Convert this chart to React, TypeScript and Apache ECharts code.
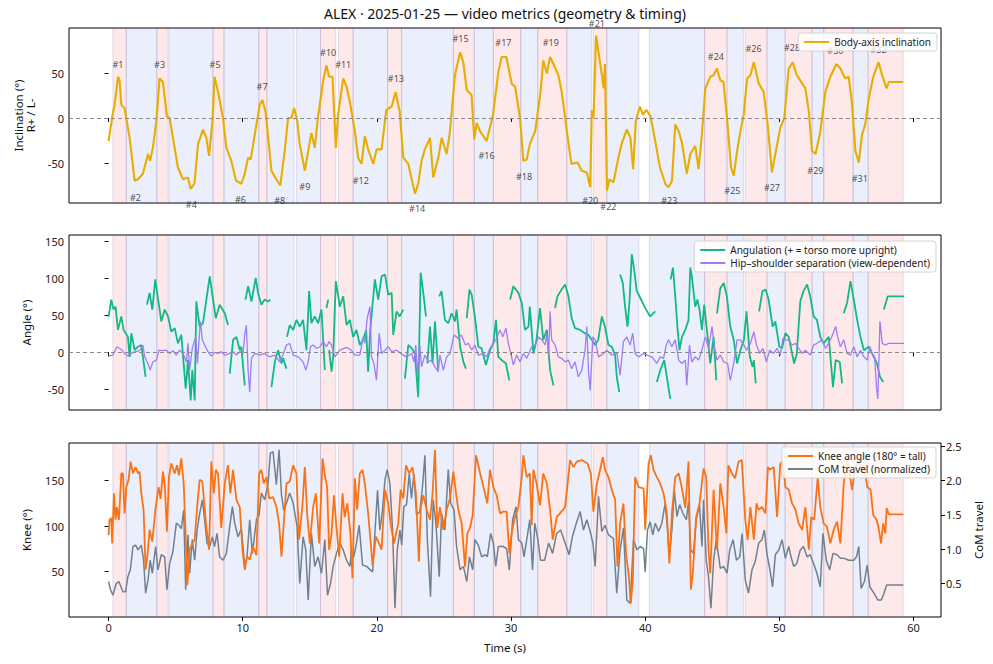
import React, { useEffect, useRef } from "react";
import * as echarts from "echarts";

const FONT = "'Noto Sans', 'DejaVu Sans', sans-serif";

// ---------- shaded phases ----------
const bandStart = [0.32, 1.32, 3.6, 4.5, 7.78, 8.6, 11.2, 11.8, 14.0, 15.8, 17.14, 18.23, 20.8, 21.84, 25.7, 27.26, 28.68, 30.72, 31.99, 34.16, 36.14, 37.14, 40.32, 44.43, 46.1, 47.46, 49.08, 50.43, 52.44, 53.31, 55.5, 56.62];
const bandEnd = [1.32, 3.6, 4.43, 7.78, 8.6, 11.2, 11.8, 13.83, 15.8, 16.94, 18.23, 20.8, 21.84, 25.7, 27.26, 28.68, 30.72, 31.99, 34.16, 36.02, 37.14, 39.53, 44.43, 46.1, 47.34, 49.08, 50.43, 52.44, 53.31, 55.5, 56.62, 59.23];
const bandKind = ["R", "L", "R", "L", "R", "L", "R", "L", "L", "R", "R", "L", "R", "L", "R", "L", "R", "L", "R", "L", "R", "L", "L", "R", "L", "R", "L", "R", "L", "R", "L", "R"];

// ---------- ticks ----------
const xTicks = [0, 10, 20, 30, 40, 50, 60];
const inclTicks = [-50, 0, 50];
const angleTicks = [-50, 0, 50, 100, 150];
const kneeTicks = [50, 100, 150];
const comTicks = [0.5, 1.0, 1.5, 2.0, 2.5];

// ---------- body-axis inclination ----------
const inclT = [0, 0.32, 0.45, 0.7, 0.82, 0.95, 1.19, 1.57, 1.94, 2.19, 2.56, 2.94, 3.1, 3.3, 3.56, 3.8, 4.05, 4.35, 4.55, 4.8, 5.17, 5.55, 5.92, 6.12, 6.4, 6.67, 7.04, 7.29, 7.49, 7.74, 7.9, 8.16, 8.53, 8.78, 9.15, 9.5, 9.9, 10.15, 10.4, 10.6, 10.9, 11.27, 11.47, 11.7, 11.9, 12.14, 12.5, 12.8, 13.13, 13.38, 13.63, 13.83, 14.05, 14.25, 14.63, 14.88, 15.12, 15.37, 15.6, 16.0, 16.24, 16.44, 16.69, 16.94, 17.11, 17.49, 17.74, 17.98, 18.36, 18.6, 18.86, 19.1, 19.35, 19.73, 19.98, 20.35, 20.7, 21.1, 21.4, 21.7, 21.97, 22.34, 22.84, 23.08, 23.33, 23.58, 23.96, 24.2, 24.58, 24.83, 25.2, 25.45, 25.82, 26.2, 26.44, 26.7, 27.06, 27.26, 27.44, 27.69, 28.18, 28.66, 29.05, 29.3, 29.65, 30.05, 30.3, 30.67, 30.92, 31.17, 31.4, 31.8, 32.2, 32.4, 32.67, 32.91, 33.16, 33.53, 33.78, 34.16, 34.5, 34.95, 35.27, 35.65, 35.9, 36.02, 36.15, 36.34, 36.52, 36.77, 36.9, 37.0, 37.15, 37.34, 37.64, 38.0, 38.27, 38.63, 38.9, 39.1, 39.3, 39.6, 39.83, 40.08, 40.4, 40.75, 41.1, 41.5, 41.74, 42.0, 42.24, 42.5, 42.74, 43.1, 43.36, 43.73, 43.98, 44.23, 44.48, 44.85, 45.1, 45.34, 45.6, 45.84, 46.14, 46.4, 46.6, 46.84, 47.1, 47.34, 47.6, 47.84, 48.1, 48.46, 48.83, 49.13, 49.45, 49.7, 50.07, 50.37, 50.7, 51.0, 51.3, 51.7, 51.94, 52.2, 52.44, 52.7, 53.06, 53.43, 53.8, 54.25, 54.55, 54.9, 55.17, 55.4, 55.67, 55.92, 56.17, 56.4, 56.67, 57.0, 57.4, 57.66, 57.99, 58.16, 59.23];
const inclV = [-25.6, 5.5, 14.6, 45.8, 42, 14.6, 11, -22, -69.6, -68, -62, -40, -47.6, -33, -3.7, 44, 40, 1.8, 0, -22, -55, -68, -66, -78.8, -73, -29, -12.8, -22, -42, -3.7, 45.8, 29, 0, -33, -47.6, -69.6, -73, -62, -44, -46, -18, 14.6, 20, 7, -22, -58.6, -68, -75, -36.6, 0, 0, 11, -1.8, -29, -58.6, -36.6, -16.5, -33, 0, 42, 58.6, 45.8, 45.8, -33, 3.7, 44, 34.8, 18.3, -14.6, -44, -51, -20, -34.8, -51, -34.8, -34.8, 9, 12.8, 29, 7, -44, -51, -84, -73, -47.6, -34.8, -22, -66, -44, -22, -40, -14.6, 47.6, 73, 62, 31, 25.6, -23.8, -5.5, -14.6, -25.6, 3.7, 51, 67.8, 67.8, 38, 35, 0, -47.6, -46, -29, -14.6, 29, 64, 49.5, 67.8, 60, 47.6, 29, -14.6, -51, -49.5, -58.6, -60.4, -77, 9, 0, 91.6, 73, 47.6, 33, 60, -80.6, -68, -71.4, -44, -27.5, -12.8, -22, -56.8, -3.7, 12.8, 3.7, 9, 1.8, -25.6, -55, -73, -77, -69.6, -7.3, -14.6, -27.5, -62, -40, -31, -56.8, -18, 33, 45.8, 47.6, 55, 42, 40, -7.3, -55, -64, -38, -14.6, 3.7, 44, 47.6, 62, 38.5, 29, -7.3, -60.4, -40, -11, 0, 55, 62, 47.6, 38.5, 33, 7, -36.6, -40, -14.6, 29, 45.8, 60, 55, 44, 45.8, 18.3, -36.6, -49.5, -18, -7.3, 22, 45.8, 62, 47.6, 33, 40, 40];

// ---------- turn annotations ----------
const peakName = ["#1", "#2", "#3", "#4", "#5", "#6", "#7", "#8", "#9", "#10", "#11", "#12", "#13", "#14", "#15", "#16", "#17", "#18", "#19", "#20", "#21", "#22", "#23", "#24", "#25", "#26", "#27", "#28", "#29", "#30", "#31", "#32"];
const peakT = [0.7, 2.0, 3.8, 6.17, 7.94, 9.83, 11.44, 12.76, 14.63, 16.37, 17.49, 18.8, 21.42, 23.0, 26.24, 28.18, 29.43, 30.97, 32.96, 35.9, 36.4, 37.26, 41.8, 45.27, 46.5, 48.08, 49.45, 50.95, 52.69, 54.18, 56.0, 57.4];
const peakV = [60, -88, 59, -96, 59, -90, 35, -92, -76, 73, 59, -69, 44, -100, 88, -42, 84, -65, 83.5, -91.6, 105, -98, -92, 68.5, -80.6, 77, -77.7, 78, -58.6, 75, -66.7, 76];

// ---------- angulation ----------
const angT = [0, 0.2, 0.37, 0.52, 0.7, 0.95, 1.12, 1.44, 1.57, 1.7, 1.94, 2.19, 2.44, 2.76, 2.8, 2.86, 3.06, 3.26, 3.48, 3.73, 3.93, 4.18, 4.43, 4.68, 4.93, 5.17, 5.42, 5.75, 5.92, 6.12, 6.24, 6.42, 6.54, 6.79, 7.04, 7.29, 7.54, 7.79, 7.99, 8.28, 8.66, 8.9, 8.95, 9.03, 9.28, 9.53, 9.78, 9.9, 10.15, 10.18, 10.2, 10.4, 10.65, 10.97, 11.14, 11.39, 11.64, 11.89, 12.06, 12.1, 12.14, 12.39, 12.64, 12.89, 13.0, 13.26, 13.28, 13.3, 13.5, 13.76, 14.0, 14.25, 14.5, 14.75, 14.95, 15.12, 15.37, 15.62, 15.87, 16.12, 16.18, 16.24, 16.37, 16.4, 16.44, 16.62, 16.74, 16.94, 17.24, 17.49, 17.74, 17.98, 18.23, 18.48, 18.73, 18.98, 19.2, 19.35, 19.5, 19.85, 20.1, 20.35, 20.6, 20.85, 21.1, 21.22, 21.47, 21.7, 21.97, 22.03, 22.09, 22.34, 22.6, 22.83, 23.08, 23.26, 23.46, 23.66, 23.7, 23.76, 23.96, 24.15, 24.33, 24.57, 24.61, 24.65, 24.82, 25.07, 25.32, 25.57, 25.82, 25.94, 26.2, 26.45, 26.64, 26.67, 26.7, 26.9, 27.07, 27.3, 27.56, 27.8, 28.13, 28.43, 28.68, 28.88, 29.05, 29.3, 29.62, 29.87, 29.9, 29.93, 30.17, 30.55, 30.8, 31.04, 31.3, 31.4, 31.67, 31.9, 32.16, 32.4, 32.67, 32.91, 33.16, 33.22, 33.28, 33.46, 33.7, 34.03, 34.28, 34.52, 34.77, 35.15, 35.5, 35.77, 36.02, 36.27, 36.5, 36.77, 37.0, 37.26, 37.5, 37.76, 37.88, 38.07, 38.1, 38.13, 38.33, 38.5, 38.68, 38.83, 39.0, 39.18, 39.37, 39.63, 40.0, 40.37, 40.75, 40.8, 40.87, 41.12, 41.42, 41.87, 41.88, 41.9, 42.07, 42.24, 42.42, 42.56, 42.74, 42.99, 43.23, 43.36, 43.48, 43.73, 43.9, 44.05, 44.23, 44.4, 44.6, 44.85, 45.1, 45.3, 45.32, 45.35, 45.6, 45.85, 46.09, 46.34, 46.6, 46.85, 47.1, 47.36, 47.55, 47.8, 48.0, 48.1, 48.24, 48.35, 48.49, 48.74, 48.98, 49.2, 49.5, 49.7, 50.0, 50.2, 50.45, 50.7, 51.1, 51.3, 51.56, 51.8, 52.07, 52.3, 52.56, 52.8, 53.05, 53.3, 53.68, 54.0, 54.2, 54.5, 54.68, 54.74, 54.8, 55.05, 55.3, 55.55, 55.8, 56.05, 56.3, 56.66, 57.04, 57.28, 57.5, 57.74, 57.76, 57.79, 58.08, 59.3];
const angV = [48, 71.5, 58, 62, 30.5, 48.7, 30.5, 21, -6, 26, 3, 7.7, 10, -33, null, 64.7, 80.6, 58, 98.8, 67, 42, 58, 48.7, 28, 32.8, 12.3, 23.7, -49, -10.5, -65, -24, -65, 69, 35, 39.6, 71.5, 103, 71.5, 46.4, 64.7, 53, 37, null, -28.7, 16.8, 21, 3, 7.7, -44.6, null, 71.5, 89.7, 69, 101, 80.6, 64.7, 71.5, 69, 71.5, null, -47, -12.8, 3, -15, -8, -22, null, 21, 37, 30.5, 44, 35, 44, 3, 83, 39.6, 48.7, 39.6, 58, -24, null, 60, 71.5, null, 3, -26, -6, 96.5, 62, 76, 37, 44, 21, 30.5, 10, 17, 30.5, -26, 30, 99, 71.5, 103, 105.6, 78, 80.6, 23.7, 55.6, 48.7, 58, null, -35.5, 10, 5.5, -1.4, -60.6, 108, 80.6, 48.7, null, -15, 35, -15, 42, -24, null, 76, 83, 44, 39.6, 53, 42, 58, 7.7, -12.8, -22, null, 46.4, 85, 78, 48.7, 7.7, 5.5, -17, 3, 12.3, 44, -6, -10.5, -15, -37.8, null, 71.5, 89.7, 80.6, 67, 30.5, 35, 62, -1.4, 17, 60, 17, 30.5, -24, -44.6, null, 60, 76, 83, 92, 76, 46.4, 32.8, 30.5, 26, 23.7, 17, 10, 17, 48.7, 35, 10, 7.7, -3.6, -33, -53.7, null, 105.6, 94, 62, 35, 69, 133, 112, 83, 74, 60, 48.7, 55.6, null, -40, -24, -10.5, -62.8, null, 99, 114.8, 76, 30.5, 3, 21, 30.5, 44, 114.8, 103, 62, 71.5, 58, 30.5, 64.7, 30.5, -15, 21, -37.8, null, 53, 87, 94, 76, 35, 17, -15, 3, 17, 55.6, -6, -19.6, -10.5, -42, null, 55.6, 83, 85, 71.5, 35, 42, 7.7, 5.5, 26, 21, -15, -1.4, 69, 83, 92, 76, 48.7, 44, 21, 12.3, 21, -47, -10.5, -12.8, -42, null, 53, 67, 96.5, 71.5, 44, 21, 3, 7.7, -6, -15, -33, -40, null, 58, 76, 76];

// ---------- hip-shoulder separation ----------
const hipT = [0, 0.32, 0.62, 0.95, 1.19, 1.44, 1.82, 2.31, 2.56, 2.69, 2.94, 3.1, 3.3, 3.56, 3.76, 4.05, 4.3, 4.55, 4.8, 5.05, 5.3, 5.55, 5.8, 5.92, 6.04, 6.24, 6.49, 6.62, 6.84, 6.99, 7.16, 7.41, 7.66, 7.9, 8.16, 8.4, 8.66, 8.9, 9.28, 9.53, 9.78, 10.02, 10.15, 10.27, 10.4, 10.52, 10.65, 10.9, 11.27, 11.64, 12.0, 12.39, 12.76, 13.0, 13.26, 13.5, 13.76, 14.13, 14.5, 14.7, 14.88, 15.05, 15.25, 15.5, 15.75, 16.0, 16.24, 16.44, 16.62, 16.87, 17.24, 17.74, 18.1, 18.36, 18.73, 18.98, 19.1, 19.28, 19.48, 19.6, 19.78, 19.97, 20.17, 20.35, 20.6, 20.85, 21.1, 21.47, 21.84, 22.21, 22.6, 22.76, 22.9, 23.03, 23.2, 23.33, 23.58, 23.83, 24.08, 24.33, 24.57, 24.7, 24.95, 25.2, 25.45, 25.75, 26.07, 26.3, 26.6, 26.82, 27.07, 27.3, 27.56, 27.93, 28.18, 28.43, 28.68, 28.93, 29.18, 29.38, 29.62, 29.8, 29.98, 30.17, 30.42, 30.67, 30.92, 31.17, 31.55, 31.8, 32.04, 32.3, 32.55, 32.67, 32.8, 32.91, 33.03, 33.28, 33.53, 33.78, 34.03, 34.28, 34.52, 34.77, 35.02, 35.27, 35.52, 35.65, 35.77, 35.9, 36.1, 36.27, 36.52, 36.9, 37.14, 37.5, 37.9, 38.13, 38.38, 38.63, 38.88, 39.07, 39.25, 39.5, 39.88, 40.12, 40.5, 40.87, 41.12, 41.37, 41.57, 41.74, 41.99, 42.24, 42.5, 42.74, 42.99, 43.1, 43.3, 43.48, 43.73, 43.98, 44.23, 44.48, 44.72, 44.98, 45.15, 45.35, 45.6, 45.85, 46.15, 46.34, 46.6, 46.85, 47.1, 47.36, 47.55, 47.84, 48.1, 48.3, 48.54, 48.78, 49.03, 49.28, 49.58, 49.83, 50.07, 50.27, 50.45, 50.7, 50.95, 51.2, 51.44, 51.7, 51.94, 52.3, 52.56, 52.8, 53.17, 53.43, 53.68, 53.9, 54.2, 54.35, 54.55, 54.8, 55.05, 55.3, 55.55, 55.8, 56.05, 56.3, 56.55, 56.75, 56.92, 57.1, 57.24, 57.34, 57.5, 57.67, 57.9, 58.15, 59.3];
const hipV = [-5, -3.6, 7.7, 4, -1.4, -5, 0, 2.3, 10, -6, -15, -24, -12.8, -10.5, 3, 2.3, 3, -1.4, 2.3, -3.6, 3, -1.4, -12.8, 12.3, -24, 5.5, 21, -15, 42, 17, 10, 1, -5, 0, -1.4, 1, -3.6, -2.3, 1, -3.6, 1, -1.4, 23.7, 37, -24, -53.7, -8, -1.4, -3.6, -1.4, -6, -3.6, -12.8, -3.6, 10, 12.3, -3.6, -6, -12.8, -24, -12.8, 7.7, 10, 5.5, 7.7, 14.6, 7.7, 14.6, 10, -6, 3, 6.8, 3, -3.6, -3.6, 21, 12.3, 46.4, 62, -6, -15, -37.8, 26, -1.4, 3, 7.7, 1, 3, -2.3, -6, -1.4, -12.8, 10, -28.7, 10, -19.6, -3.6, -12.8, -10.5, -19.6, -26, -3.6, -24, -6, -1.4, 23.7, 19, 23.7, 10, 12.3, 3, 10, -3.6, -1.4, -6, 5.5, 12.3, 19, 30.5, 21, 32.8, 12.3, -1.4, -17, -3.6, -12.8, -1.4, -8, 7.7, 10, 21, 17, 10, 26, -3.6, 55.6, 17, 10, -6, -8, -12.8, -10.5, -22, -12.8, -33, -24, 3, 35, -24, -51.5, 21, 17, -6, -1.4, 3, -3.6, -1.4, -31, 14.6, 21, 10, 26, -1.4, -6, -1.4, -3.6, -6, -15, -6, -8, 10, 17, 7.7, 17, -10.5, -15, -10.5, -44.6, 10, -12.8, -6, -10.5, 3, 21, 5.5, 35, 7.7, -10.5, -3.6, -12.8, -15, -37.8, -15, 17, 17, 10, 3, 12.3, 28, 10, -1.4, 5.5, -12.8, 3, -1.4, 5.5, -3.6, 19, 17, 17, 10, 12.3, 5.5, -1.4, 3, -3.6, 10, 12.3, 17, 5.5, 12.3, 21, 35, 21, 7.7, 17, -1.4, -3.6, 7.7, -6, 3, -6, -10.5, 7.7, -1.4, -6, -47, -63, 42, 12.3, 10, 12.3, 12.3];

// ---------- knee angle ----------
const kneeT = [0, 0.07, 0.2, 0.27, 0.4, 0.52, 0.62, 0.77, 0.95, 1.07, 1.19, 1.32, 1.49, 1.64, 1.82, 2.01, 2.19, 2.31, 2.44, 2.61, 2.76, 2.89, 3.06, 3.26, 3.51, 3.73, 3.88, 4.05, 4.2, 4.35, 4.5, 4.68, 4.93, 5.1, 5.25, 5.42, 5.6, 5.75, 5.87, 6.04, 6.24, 6.42, 6.6, 6.79, 6.99, 7.29, 7.49, 7.66, 7.84, 7.99, 8.16, 8.4, 8.66, 8.9, 9.08, 9.28, 9.53, 9.78, 9.98, 10.15, 10.32, 10.52, 10.77, 11.02, 11.22, 11.39, 11.57, 11.77, 11.97, 12.26, 12.51, 12.71, 12.89, 13.06, 13.26, 13.5, 13.76, 14.0, 14.2, 14.45, 14.63, 14.8, 15.0, 15.25, 15.45, 15.7, 15.95, 16.12, 16.29, 16.44, 16.62, 16.8, 16.99, 17.19, 17.44, 17.6, 17.79, 18.03, 18.18, 18.36, 18.53, 18.73, 18.93, 19.1, 19.35, 19.68, 19.93, 20.17, 20.35, 20.6, 20.85, 21.02, 21.27, 21.6, 21.77, 21.97, 22.17, 22.41, 22.66, 22.91, 23.13, 23.28, 23.46, 23.71, 23.96, 24.15, 24.33, 24.5, 24.7, 24.95, 25.2, 25.45, 25.7, 25.9, 26.07, 26.32, 26.57, 26.74, 26.94, 27.14, 27.39, 27.63, 27.88, 28.06, 28.23, 28.43, 28.68, 28.93, 29.18, 29.42, 29.67, 29.87, 30.04, 30.29, 30.55, 30.8, 30.92, 31.17, 31.4, 31.54, 31.67, 31.9, 32.16, 32.4, 32.67, 32.91, 33.11, 33.4, 33.65, 34.03, 34.4, 34.65, 34.9, 35.27, 35.7, 35.95, 36.14, 36.4, 36.64, 36.84, 37.01, 37.26, 37.51, 37.76, 37.93, 38.13, 38.38, 38.58, 38.76, 38.93, 39.08, 39.25, 39.5, 39.88, 40.0, 40.25, 40.42, 40.62, 40.87, 41.12, 41.37, 41.62, 41.8, 42.0, 42.24, 42.5, 42.74, 42.99, 43.23, 43.4, 43.55, 43.8, 44.05, 44.35, 44.55, 44.72, 44.85, 45.1, 45.35, 45.6, 45.85, 46.05, 46.2, 46.47, 46.7, 46.96, 47.2, 47.46, 47.64, 47.84, 48.1, 48.3, 48.46, 48.7, 48.96, 49.15, 49.3, 49.58, 49.83, 50.07, 50.27, 50.45, 50.7, 50.95, 51.2, 51.44, 51.7, 51.94, 52.2, 52.38, 52.6, 52.86, 53.05, 53.3, 53.55, 53.8, 54.05, 54.3, 54.55, 54.8, 55.05, 55.25, 55.42, 55.67, 55.92, 56.17, 56.34, 56.55, 56.8, 57.0, 57.25, 57.4, 57.58, 57.74, 57.9, 58.0, 58.16, 59.25];
const kneeV = [90, 107, 109, 81, 136, 107, 121, 107, 158, 158, 114, 143, 151, 171, 158, 165, 158, 160, 136, 118, 52, 66.5, 96, 83, 121, 143, 130, 160, 143, 94, 154, 169, 158, 167, 156, 174.5, 147, 88.5, 35, 74, 81, 85, 121, 151, 149, 99, 74, 171, 136, 162, 158, 98, 147, 167, 136, 162, 129, 121, 74, 52, 66.5, 63, 77.5, 68, 158, 162, 147, 154, 130.6, 132, 121, 103, 66.5, 103, 147, 149, 167, 158, 85, 123, 165, 114, 81, 121, 136, 81, 174.5, 156, 143, 74, 92, 134, 98, 66.5, 136, 110, 125, 92, 42.7, 152.6, 118, 158, 162, 147, 114, 57, 88.5, 81, 74, 140, 125, 103, 81, 103, 140, 130.6, 167, 158, 165, 136, 61, 121, 134, 118, 107, 136, 183.7, 98, 121, 96, 118, 130.6, 160, 136, 118, 103, 55.5, 92, 98, 112, 178, 162, 147, 136, 125, 162, 143, 134, 114, 116, 116, 70, 92, 110, 121, 154, 178, 154, 158, 101, 162, 147, 123, 158, 147, 118, 85, 110, 114, 121, 172.7, 165, 171, 172.7, 169, 158, 116, 147, 162, 176, 162, 154, 140, 129, 55.5, 103, 125, 68, 48, 15, 41, 154, 143, 141.6, 96, 169, 178, 162, 154, 147, 136, 114, 59, 116, 154, 158, 141.6, 120, 171, 30, 48, 110, 125, 163.5, 154, 74, 48, 140, 74, 147, 121, 92, 167, 158, 152.6, 171, 172.7, 107, 85, 121, 85, 125, 118, 121, 114, 165, 162, 165, 110, 169, 171, 143, 140, 125, 118, 103, 96, 121, 74, 110, 107, 154, 121, 103, 99.5, 81, 96, 105, 81, 147, 172.7, 158, 140, 165, 172.7, 160, 165, 143, 140, 112, 107, 98, 81, 103, 92, 120, 113, 113];

// ---------- CoM travel (normalized) ----------
const comT = [0, 0.15, 0.32, 0.57, 0.77, 1.07, 1.27, 1.44, 1.62, 1.82, 2.01, 2.19, 2.44, 2.61, 2.76, 2.94, 3.1, 3.26, 3.51, 3.68, 3.93, 4.18, 4.35, 4.55, 4.8, 5.05, 5.25, 5.42, 5.6, 5.75, 5.92, 6.04, 6.24, 6.42, 6.6, 6.79, 6.99, 7.16, 7.34, 7.54, 7.74, 7.9, 8.08, 8.28, 8.53, 8.78, 9.03, 9.23, 9.4, 9.65, 9.9, 10.15, 10.32, 10.52, 10.72, 11.02, 11.22, 11.39, 11.64, 11.89, 12.06, 12.26, 12.51, 12.71, 12.89, 13.06, 13.26, 13.5, 13.76, 14.05, 14.25, 14.5, 14.7, 14.88, 15.12, 15.37, 15.62, 15.87, 16.12, 16.32, 16.54, 16.74, 16.99, 17.24, 17.49, 17.74, 17.99, 18.11, 18.28, 18.48, 18.68, 18.93, 19.23, 19.68, 19.85, 20.05, 20.22, 20.42, 20.6, 20.77, 20.97, 21.17, 21.35, 21.52, 21.72, 21.85, 22.01, 22.21, 22.41, 22.58, 22.76, 22.96, 23.2, 23.4, 23.58, 23.76, 24.0, 24.2, 24.4, 24.65, 24.82, 25.07, 25.32, 25.5, 25.75, 25.94, 26.2, 26.45, 26.7, 26.9, 27.14, 27.31, 27.56, 27.81, 28.06, 28.23, 28.48, 28.68, 28.86, 29.05, 29.42, 29.67, 29.87, 30.12, 30.37, 30.55, 30.8, 30.97, 31.17, 31.4, 31.6, 31.77, 32.0, 32.2, 32.5, 32.8, 33.1, 33.4, 33.7, 34.03, 34.33, 34.57, 34.82, 35.15, 35.4, 35.65, 35.9, 36.1, 36.27, 36.52, 36.77, 37.01, 37.26, 37.63, 37.88, 38.13, 38.38, 38.63, 38.88, 39.13, 39.38, 39.63, 39.88, 40.0, 40.17, 40.37, 40.57, 40.75, 41.0, 41.24, 41.49, 41.67, 41.8, 42.0, 42.17, 42.37, 42.57, 42.82, 43.07, 43.23, 43.4, 43.6, 43.8, 44.05, 44.23, 44.35, 44.55, 44.72, 44.9, 45.1, 45.3, 45.6, 45.85, 46.1, 46.3, 46.55, 46.8, 47.05, 47.22, 47.46, 47.7, 47.96, 48.2, 48.46, 48.7, 48.88, 49.07, 49.3, 49.5, 49.7, 49.96, 50.2, 50.45, 50.7, 50.87, 51.07, 51.3, 51.56, 51.8, 52.07, 52.3, 52.56, 52.8, 53.05, 53.25, 53.5, 53.75, 54.0, 54.3, 54.55, 54.8, 55.17, 55.55, 55.75, 55.92, 56.1, 56.34, 56.55, 56.75, 57.05, 57.35, 57.6, 57.8, 58.0, 58.3, 59.25];
const comV = [0.53, 0.41, 0.33, 0.5, 0.53, 0.38, 0.38, 0.6, 0.7, 1.04, 1.06, 0.99, 1.06, 0.84, 0.36, 0.55, 0.84, 0.65, 1.04, 0.7, 0.92, 0.89, 0.41, 0.79, 0.97, 1.38, 1.35, 1.3, 1.57, 0.41, 1.21, 0.65, 1.14, 0.84, 1.28, 1.52, 1.72, 1.43, 1.09, 1.04, 1.18, 1.04, 1.23, 0.89, 0.84, 0.94, 1.33, 1.62, 1.38, 1.18, 1.3, 0.75, 0.89, 1.43, 0.94, 1.43, 1.5, 1.82, 1.72, 1.96, 2.4, 2.42, 1.94, 2.45, 1.79, 1.57, 1.67, 1.82, 1.67, 1.33, 0.5, 1.18, 0.99, 0.26, 1.23, 0.75, 0.89, 0.65, 1.14, 0.33, 0.5, 0.75, 0.94, 1.09, 0.99, 0.84, 0.75, 0.99, 0.89, 1.09, 1.35, 0.77, 0.75, 0.67, 1.23, 1.86, 1.28, 1.57, 2.01, 2.16, 1.96, 1.28, 0.14, 0.99, 1.28, 1.06, 1.62, 1.65, 2.1, 1.74, 2.1, 1.5, 1.55, 1.91, 2.37, 1.14, 0.31, 1.72, 1.38, 0.6, 1.52, 1.28, 2.16, 1.67, 1.57, 1.04, 0.7, 0.75, 0.53, 0.89, 0.7, 1.14, 1.06, 0.89, 0.92, 0.89, 1.23, 1.09, 0.75, 1.04, 1.04, 1.01, 0.7, 1.43, 1.62, 1.14, 1.09, 0.89, 1.14, 1.43, 0.7, 1.38, 1.14, 0.84, 0.84, 1.09, 0.94, 1.23, 1.28, 1.09, 0.92, 1.18, 1.35, 1.55, 1.28, 1.43, 1.26, 1.09, 0.75, 1.77, 1.26, 1.35, 1.21, 1.16, 0.36, 0.99, 1.31, 0.26, 0.21, 1.14, 0.99, 1.04, 1.01, 0.67, 1.28, 1.4, 1.21, 1.38, 1.26, 1.38, 1.67, 1.28, 0.89, 1.3, 1.86, 1.48, 1.65, 1.52, 1.43, 1.69, 0.99, 0.94, 1.43, 1.65, 1.04, 1.72, 0.84, 0.6, 0.14, 0.84, 1.14, 0.72, 0.75, 0.65, 0.99, 1.14, 0.84, 0.89, 1.23, 0.55, 0.36, 0.7, 0.82, 1.09, 1.14, 1.28, 0.94, 0.7, 0.45, 0.92, 0.99, 1.14, 0.87, 1.04, 0.89, 0.75, 0.79, 0.99, 1.04, 0.89, 0.92, 0.79, 0.65, 0.45, 1.23, 0.84, 0.7, 0.94, 0.92, 0.87, 0.87, 0.84, 0.84, 0.89, 1.04, 0.43, 0.53, 0.77, 0.45, 0.36, 0.26, 0.26, 0.36, 0.48, 0.48, 0.48];

const COL_INCL = "#E8AD00";
const COL_ANG = "#12B886";
const COL_HIP = "#A07CF5";
const COL_KNEE = "#F97316";
const COL_COM = "#708090";

function zip(t: number[], v: (number | null)[]) {
  return t.map((x, i) => [x, v[i] === null ? NaN : v[i]]);
}

function bandAreas() {
  return bandStart.map((s, i) => [
    {
      xAxis: s,
      itemStyle: {
        color: bandKind[i] === "R" ? "rgba(240,70,70,0.12)" : "rgba(70,110,230,0.11)",
        borderColor: "rgba(130,110,170,0.2)",
        borderWidth: 1,
      },
    },
    { xAxis: bandEnd[i] },
  ]);
}

const GRIDS = [
  { top: 28, height: 175 },
  { top: 235, height: 175 },
  { top: 443, height: 174 },
];

export default function App() {
  const ref = useRef<HTMLDivElement>(null);
  useEffect(() => {
    if (!ref.current) return;
    const chart = echarts.init(ref.current, undefined, { renderer: "svg" });
    const axisLabelStyle = { fontSize: 11, color: "#222", fontFamily: FONT };
    const nameStyle = { fontSize: 11.5, color: "#111", fontFamily: FONT };

    const xAxes = GRIDS.map((_, i) => ({
      type: "value",
      gridIndex: i,
      min: -2.95,
      max: 62.05,
      axisLine: { show: false },
      splitLine: { show: false },
      axisTick: { show: true, customValues: xTicks, length: 4, lineStyle: { color: "#000" } },
      axisLabel: { show: i === 2, customValues: xTicks, margin: 5, ...axisLabelStyle },
      name: i === 2 ? "Time (s)" : "",
      nameLocation: "middle",
      nameGap: 24,
      nameTextStyle: nameStyle,
    }));

    const yBase = (grid: number, min: number, max: number, ticks: number[], name: string, gap: number) => ({
      type: "value",
      gridIndex: grid,
      min,
      max,
      axisLine: { show: false },
      splitLine: { show: false },
      axisTick: { show: true, customValues: ticks, length: 4, lineStyle: { color: "#000" } },
      axisLabel: { customValues: ticks, margin: 5, ...axisLabelStyle },
      name,
      nameLocation: "middle",
      nameRotate: 90,
      nameGap: gap,
      nameTextStyle: nameStyle,
    });

    const yAxes: any[] = [
      yBase(0, -94.4, 100, inclTicks, "Inclination (°)\nR+ / L-", 33),
      yBase(1, -78, 159, angleTicks, "Angle (°)", 37),
      yBase(2, 0, 191.5, kneeTicks, "Knee (°)", 37),
      {
        ...yBase(2, 0.013, 2.548, comTicks, "CoM travel", 31),
        position: "right",
        axisLabel: { customValues: comTicks, margin: 5, formatter: (v: number) => v.toFixed(1), ...axisLabelStyle },
      },
    ];

    const bgSeries = (i: number, zero: boolean) => ({
      type: "line",
      name: "bg" + i,
      xAxisIndex: i,
      yAxisIndex: i,
      data: [],
      z: 0,
      silent: true,
      markArea: { silent: true, data: bandAreas() },
      markLine: zero
        ? {
            silent: true,
            symbol: "none",
            label: { show: false },
            lineStyle: { color: "#8a8a8a", type: [4, 3], width: 1 },
            data: [{ yAxis: 0 }],
          }
        : undefined,
    });

    const lineSeries = (name: string, xi: number, yi: number, data: any[], color: string, width: number, z: number) => ({
      type: "line",
      name,
      xAxisIndex: xi,
      yAxisIndex: yi,
      data,
      showSymbol: false,
      symbol: "none",
      connectNulls: false,
      lineStyle: { color, width },
      itemStyle: { color },
      z,
    });

    const legendBase = {
      orient: "vertical",
      backgroundColor: "rgba(255,255,255,0.82)",
      borderColor: "#d4d4d4",
      borderWidth: 1,
      borderRadius: 3,
      padding: [4, 6, 4, 6],
      itemGap: 3,
      itemWidth: 25,
      itemHeight: 2,
      icon: "rect",
      textStyle: { fontSize: 10, color: "#222", fontFamily: FONT },
      selectedMode: false,
      z: 10,
    };

    const option: any = {
      animation: false,
      backgroundColor: "#fff",
      textStyle: { fontFamily: FONT },
      grid: GRIDS.map((g) => ({
        left: 69,
        width: 872,
        top: g.top,
        height: g.height,
        show: true,
        borderColor: "#000",
        borderWidth: 1,
        backgroundColor: "transparent",
        containLabel: false,
      })),
      graphic: [
        {
          type: "text",
          x: 505,
          y: 6,
          z: 10,
          style: {
            text: "ALEX · 2025-01-25 — video metrics (geometry & timing)",
            textAlign: "center",
            fontSize: 14,
            fontFamily: FONT,
            fill: "#111",
          },
        },
      ],
      legend: [
        { ...legendBase, right: 56, top: 33, data: ["Body-axis inclination"] },
        {
          ...legendBase,
          right: 57,
          top: 241,
          data: ["Angulation (+ = torso more upright)", "Hip–shoulder separation (view-dependent)"],
        },
        { ...legendBase, right: 57, top: 447, data: ["Knee angle (180° = tall)", "CoM travel (normalized)"] },
      ],
      xAxis: xAxes,
      yAxis: yAxes,
      series: [
        bgSeries(0, true),
        bgSeries(1, true),
        bgSeries(2, false),
        lineSeries("Body-axis inclination", 0, 0, zip(inclT, inclV), COL_INCL, 2.1, 2),
        {
          type: "scatter",
          name: "labels",
          xAxisIndex: 0,
          yAxisIndex: 0,
          data: peakT.map((t, i) => [t, peakV[i], peakName[i]]),
          symbolSize: 1,
          itemStyle: { color: "rgba(0,0,0,0)" },
          clip: false,
          silent: true,
          z: 3,
          label: {
            show: true,
            position: "inside",
            formatter: (p: any) => p.data[2],
            fontSize: 9,
            color: "#222",
            fontFamily: FONT,
          },
        },
        lineSeries("Angulation (+ = torso more upright)", 1, 1, zip(angT, angV), COL_ANG, 1.8, 2),
        lineSeries("Hip–shoulder separation (view-dependent)", 1, 1, zip(hipT, hipV), COL_HIP, 1.3, 3),
        lineSeries("CoM travel (normalized)", 2, 3, zip(comT, comV), COL_COM, 1.5, 2),
        lineSeries("Knee angle (180° = tall)", 2, 2, zip(kneeT, kneeV), COL_KNEE, 1.8, 3),
      ],
    };
    chart.setOption(option);
    return () => chart.dispose();
  }, []);
  return <div ref={ref} style={{ position: "absolute", left: 0, top: 0, width: 993, height: 664 }} />;
}
